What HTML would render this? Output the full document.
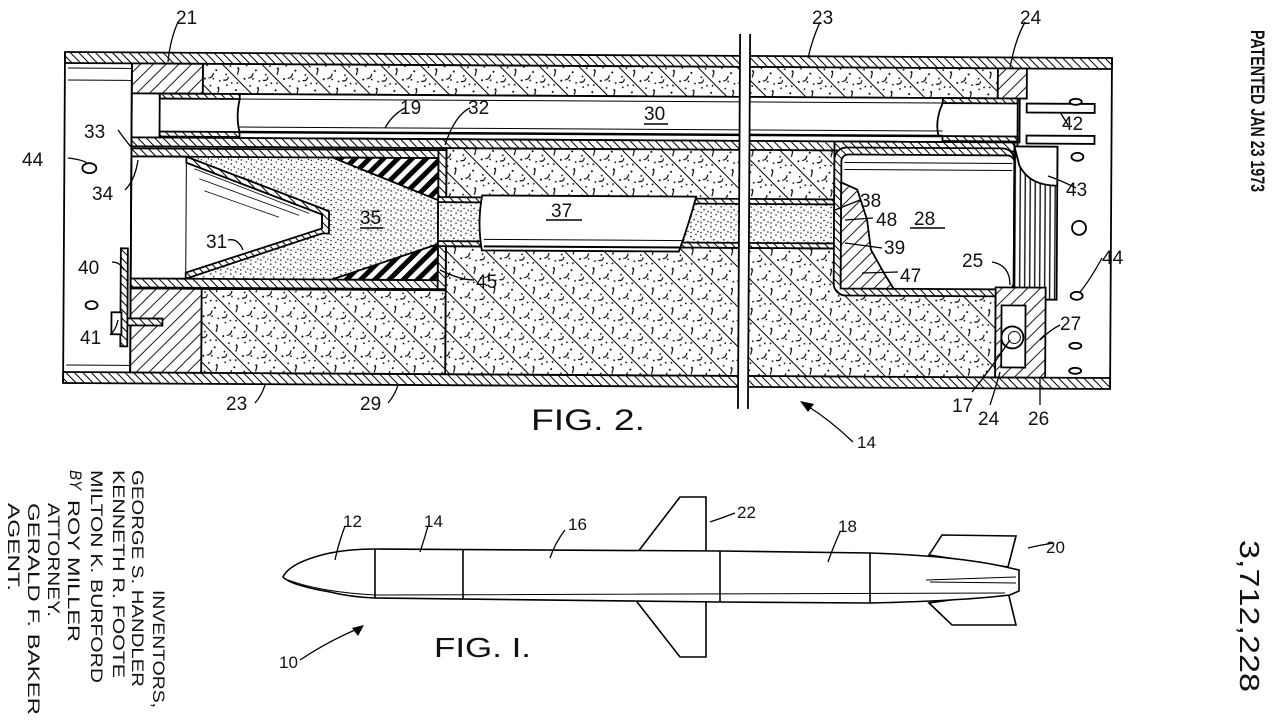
<!DOCTYPE html>
<html><head><meta charset="utf-8"><style>
html,body{margin:0;padding:0;background:#fff;}
svg{display:block;}
text{font-family:"Liberation Sans",sans-serif;fill:#111;}
.l{font-size:19px;}
</style></head><body>
<svg width="1280" height="722" viewBox="0 0 1280 722" xmlns="http://www.w3.org/2000/svg">
<defs>
<pattern id="h1" width="6" height="6" patternUnits="userSpaceOnUse" patternTransform="rotate(-45)"><rect width="6" height="6" fill="#fff"/><line x1="0" y1="0" x2="0" y2="6" stroke="#000" stroke-width="2"/></pattern>
<pattern id="h2" width="9" height="9" patternUnits="userSpaceOnUse" patternTransform="rotate(45)"><rect width="9" height="9" fill="#fff"/><line x1="0" y1="0" x2="0" y2="9" stroke="#000" stroke-width="1.8"/></pattern>
<pattern id="blk" width="10" height="10" patternUnits="userSpaceOnUse" patternTransform="rotate(45)"><rect width="10" height="10" fill="#fff"/><rect x="0" y="0" width="5" height="10" fill="#000"/></pattern>
<pattern id="ins" width="28" height="28" patternUnits="userSpaceOnUse" patternTransform="rotate(-45)"><rect width="28" height="28" fill="#fff"/><line x1="0" y1="0" x2="0" y2="28" stroke="#000" stroke-width="2"/>
<circle cx="6" cy="4" r="1"/><circle cx="12" cy="10" r="0.9"/><circle cx="20" cy="6" r="1"/><circle cx="24" cy="16" r="0.9"/><circle cx="9" cy="20" r="1"/><circle cx="17" cy="24" r="0.9"/><circle cx="22" cy="26" r="0.9"/><circle cx="5" cy="13" r="0.9"/><circle cx="15" cy="16" r="0.9"/><circle cx="26" cy="2" r="0.9"/>
<path d="M9 6 q3 3 7 0 M18 18 q3 4 6 1 M4 24 l5 -3" stroke="#000" stroke-width="1.1" fill="none"/></pattern>
<pattern id="st" width="10" height="10" patternUnits="userSpaceOnUse"><rect width="10" height="10" fill="#fff"/><circle cx="2" cy="3" r="0.8"/><circle cx="7" cy="1" r="0.7"/><circle cx="5" cy="6" r="0.8"/><circle cx="9" cy="8" r="0.7"/><circle cx="2" cy="9" r="0.7"/></pattern>
<pattern id="thr" width="5" height="10" patternUnits="userSpaceOnUse"><rect width="5" height="10" fill="#fff"/><line x1="1" y1="0" x2="1" y2="10" stroke="#000" stroke-width="1.3"/></pattern>
</defs>
<rect width="1280" height="722" fill="#fff"/>

<g transform="rotate(0.33 65 52)" stroke="#000" stroke-width="1.8">
<rect x="65" y="52" width="1047" height="11" fill="url(#h1)"/>
<rect x="65" y="372" width="1047" height="11" fill="url(#h1)"/>
<line x1="65" y1="52" x2="65" y2="383"/>
<line x1="1112" y1="52" x2="1112" y2="383"/>
<rect x="203" y="63" width="795" height="30" fill="url(#ins)"/>
<rect x="132" y="63" width="71" height="30" fill="url(#h2)"/>
<rect x="998" y="63" width="29" height="30" fill="url(#h2)"/>
<rect x="132" y="93" width="888" height="44" fill="#fff"/>
<rect x="160" y="93" width="80" height="5" fill="url(#h1)"/>
<rect x="160" y="131" width="80" height="5" fill="url(#h1)"/>
<rect x="943" y="93" width="75" height="5" fill="url(#h1)"/>
<rect x="943" y="131" width="75" height="5" fill="url(#h1)"/>
<path d="M240 98 q-4 18 0 33 M943 98 q-8 18 -4 33" fill="none"/>
<line x1="240" y1="98" x2="943" y2="98" stroke-width="1"/>
<line x1="240" y1="126" x2="943" y2="126" stroke-width="1"/>
<line x1="240" y1="131" x2="943" y2="131" stroke-width="2.5"/>
<line x1="160" y1="93" x2="160" y2="136"/>
<rect x="132" y="137" width="886" height="9" fill="url(#h1)"/>
<rect x="447" y="146" width="388" height="50" fill="url(#ins)"/>
<rect x="447" y="244" width="550" height="128" fill="url(#ins)"/>
<rect x="203" y="288" width="244" height="84" fill="url(#ins)"/>
<rect x="132" y="288" width="71" height="84" fill="url(#h2)"/>
<rect x="835" y="137" width="180" height="9" fill="url(#h1)"/>
<rect x="132" y="146" width="315" height="142" fill="url(#st)"/>
<rect x="132" y="148" width="315" height="8" fill="url(#h1)"/>
<rect x="132" y="278" width="315" height="9" fill="url(#h1)"/>
<rect x="439" y="148" width="8" height="139" fill="url(#h1)"/>
<polygon points="132,156 187,156 323,210 323,230 187,278 132,278" fill="#fff"/>
<line x1="187" y1="156" x2="187" y2="278" stroke-width="1"/>
<path d="M190 160 L315 208 M195 168 L310 212 M200 178 L300 214 M205 190 L280 216" stroke-width="0.8" fill="none"/>
<polygon points="187,156 323,207 330,210 330,232 323,232 187,278 187,272 323,227 323,213 187,162" fill="url(#h1)"/>
<polygon points="333,156 439,156 439,198" fill="url(#blk)"/>
<polygon points="333,278 439,242 439,278" fill="url(#blk)"/>
<rect x="439" y="196" width="396" height="48" fill="url(#st)"/>
<rect x="439" y="195" width="396" height="5" fill="url(#h1)"/>
<rect x="439" y="239" width="396" height="5" fill="url(#h1)"/>
<path d="M483 193 L697 193 Q690 220 680 248 L483 248 Q478 220 483 193 Z" fill="#fff"/>
<line x1="485" y1="237" x2="685" y2="237" stroke-width="1"/>
<line x1="485" y1="244" x2="683" y2="244" stroke-width="2"/>
<rect x="835" y="143" width="180" height="148" rx="12" fill="url(#h1)"/>
<rect x="842" y="150" width="173" height="134" rx="7" fill="#fff"/>
<line x1="845" y1="158" x2="1013" y2="158" stroke-width="1"/>
<line x1="845" y1="165" x2="1013" y2="165" stroke-width="1"/>
<polygon points="842,178 858,185 868,215 872,245 885,268 895,284 842,284" fill="url(#h2)"/>
<rect x="1015" y="141" width="43" height="153" fill="url(#thr)"/>
<path d="M1015 141 L1058 141 L1058 180 Q1030 180 1020 160 Z" fill="#fff"/>
<line x1="1018" y1="93" x2="1018" y2="141"/>
<rect x="1027" y="98" width="68" height="9" fill="#fff"/>
<rect x="1027" y="130" width="68" height="8" fill="#fff"/>
<rect x="997" y="282" width="50" height="90" fill="url(#h2)"/>
<rect x="1003" y="300" width="24" height="62" fill="#fff"/>
<circle cx="1014" cy="332" r="11" fill="#fff"/>
<circle cx="1016" cy="332" r="6" fill="none" stroke-width="1"/>
<rect x="740" y="30" width="10" height="375" fill="#fff" stroke="none"/>
<line x1="740" y1="30" x2="740" y2="405"/>
<line x1="750" y1="30" x2="750" y2="405"/>
<line x1="132" y1="63" x2="132" y2="372"/>
<line x1="68" y1="68" x2="132" y2="68" stroke-width="1"/>
<line x1="68" y1="80" x2="132" y2="80" stroke-width="1"/>
<line x1="68" y1="365" x2="132" y2="365" stroke-width="1"/>
<rect x="122" y="248" width="7" height="98" fill="url(#h1)"/>
<rect x="113" y="312" width="10" height="22" fill="#fff"/>
<rect x="129" y="318" width="35" height="7" fill="url(#h1)"/>
<ellipse cx="90" cy="168" rx="7" ry="5" fill="#fff"/>
<ellipse cx="93" cy="305" rx="6" ry="4" fill="#fff"/>
<ellipse cx="1076" cy="96" rx="6" ry="3" fill="#fff"/>
<ellipse cx="1078" cy="151" rx="6" ry="4" fill="#fff"/>
<circle cx="1080" cy="222" r="7" fill="#fff"/>
<ellipse cx="1078" cy="290" rx="6" ry="4" fill="#fff"/>
<ellipse cx="1077" cy="340" rx="6" ry="3" fill="#fff"/>
<ellipse cx="1077" cy="365" rx="6" ry="3" fill="#fff"/>
</g>

<g stroke="#000" stroke-width="1.3" fill="none">
<path d="M178 22 Q170 40 168 62"/>
<path d="M820 22 Q812 40 808 58"/>
<path d="M1025 22 Q1015 40 1010 68"/>
<path d="M118 130 Q125 140 132 148"/>
<path d="M125 190 Q135 180 138 160"/>
<path d="M68 158 Q85 160 88 164"/>
<path d="M405 108 Q392 115 385 128"/>
<path d="M470 108 Q455 115 445 145"/>
<path d="M228 240 Q238 238 243 250"/>
<path d="M112 262 Q120 262 124 270"/>
<path d="M474 280 Q460 280 440 270"/>
<path d="M110 335 Q116 330 118 320"/>
<path d="M255 403 Q262 395 265 385"/>
<path d="M388 403 Q395 395 398 385"/>
<path d="M860 200 L835 210"/>
<path d="M873 218 L845 220"/>
<path d="M882 248 L845 243"/>
<path d="M898 272 L862 273"/>
<path d="M992 262 Q1010 265 1010 285"/>
<path d="M1076 188 Q1060 180 1048 176"/>
<path d="M1068 125 L1060 112"/>
<path d="M1102 258 Q1090 280 1080 292"/>
<path d="M1060 325 Q1050 330 1040 340"/>
<path d="M972 392 Q990 370 1010 340"/>
<path d="M990 405 Q995 390 1000 372"/>
<path d="M1040 405 L1040 378"/>
<path d="M853 442 Q830 420 806 405"/>
</g>
<polygon points="800,401 814,404 808,412" fill="#000"/>

<g class="l">
<text x="176" y="24">21</text>
<text x="812" y="24">23</text>
<text x="1020" y="24">24</text>
<text x="644" y="120">30</text>
<text x="84" y="138">33</text>
<text x="92" y="200">34</text>
<text x="22" y="166">44</text>
<text x="400" y="114">19</text>
<text x="468" y="114">32</text>
<text x="360" y="224">35</text>
<text x="551" y="217">37</text>
<text x="206" y="248">31</text>
<text x="78" y="274">40</text>
<text x="476" y="288">45</text>
<text x="80" y="344">41</text>
<text x="226" y="410">23</text>
<text x="360" y="410">29</text>
<text x="860" y="207">38</text>
<text x="876" y="226">48</text>
<text x="914" y="225">28</text>
<text x="884" y="254">39</text>
<text x="962" y="267">25</text>
<text x="900" y="282">47</text>
<text x="1066" y="196">43</text>
<text x="1062" y="130">42</text>
<text x="1102" y="264">44</text>
<text x="1060" y="330">27</text>
<text x="952" y="412">17</text>
<text x="978" y="425">24</text>
<text x="1028" y="425">26</text>
<text x="857" y="448" font-size="17">14</text>
</g>
<g stroke="#000" stroke-width="1.5">
<line x1="644" y1="124" x2="668" y2="124"/>
<line x1="360" y1="228" x2="383" y2="228"/>
<line x1="546" y1="220" x2="582" y2="220"/>
<line x1="910" y1="228" x2="945" y2="228"/>
</g>
<text x="531" y="430" font-size="30" textLength="114" lengthAdjust="spacingAndGlyphs">FIG. 2.</text>

<g stroke="#000" stroke-width="1.6" fill="#fff">
<polygon points="634,557 680,497 706,497 706,557"/>
<polygon points="634,598 680,657 706,657 706,598"/>
<polygon points="929,555 942,535 1016,536 1008,567"/>
<polygon points="929,603 952,625 1016,625 1008,592"/>
<path d="M283 577 Q290 562 330 553 Q350 549 375 549 L720 551 L870 553 Q960 556 1010 568 L1019 570 L1019 591 L1010 595 Q960 601 870 603 L720 602 L375 598 Q350 597 330 592 Q290 585 283 577 Z"/>
<line x1="375" y1="549" x2="375" y2="598"/>
<line x1="463" y1="550" x2="463" y2="599"/>
<line x1="720" y1="551" x2="720" y2="602"/>
<line x1="870" y1="553" x2="870" y2="603"/>
<path d="M288 580 Q320 592 375 595 L1005 593" fill="none" stroke-width="1"/>
<path d="M926 580 L1016 577 M930 582 L1016 583" fill="none" stroke-width="1"/>
</g>
<g stroke="#000" stroke-width="1.3" fill="none">
<path d="M345 526 Q338 545 335 560"/>
<path d="M428 526 Q424 540 420 552"/>
<path d="M565 530 Q555 543 550 558"/>
<path d="M735 513 Q722 518 710 522"/>
<path d="M840 532 Q832 550 828 562"/>
<path d="M1054 543 Q1040 545 1028 548"/>
<path d="M300 660 Q330 640 360 628"/>
</g>
<polygon points="364,625 352,628 358,636" fill="#000"/>
<g font-size="17">
<text x="343" y="527">12</text>
<text x="424" y="527">14</text>
<text x="568" y="530">16</text>
<text x="737" y="518">22</text>
<text x="838" y="532">18</text>
<text x="1046" y="553">20</text>
<text x="279" y="668">10</text>
</g>
<text x="434" y="657" font-size="28" textLength="97" lengthAdjust="spacingAndGlyphs">FIG. I.</text>

<text transform="translate(1251,30) rotate(90)" font-size="19" font-weight="bold" textLength="162" lengthAdjust="spacingAndGlyphs">PATENTED JAN 23 1973</text>
<text transform="translate(1240,540) rotate(90)" font-size="28" textLength="152" lengthAdjust="spacingAndGlyphs">3,712,228</text>

<g font-size="17">
<text transform="translate(153,590) rotate(90)" textLength="118" lengthAdjust="spacingAndGlyphs">INVENTORS,</text>
<text transform="translate(132,470) rotate(90)" textLength="217" lengthAdjust="spacingAndGlyphs">GEORGE S. HANDLER</text>
<text transform="translate(113,470) rotate(90)" textLength="208" lengthAdjust="spacingAndGlyphs">KENNETH R. FOOTE</text>
<text transform="translate(91,470) rotate(90)" textLength="213" lengthAdjust="spacingAndGlyphs">MILTON K. BURFORD</text>
<text transform="translate(70,470) rotate(90)" font-style="italic" font-family="Liberation Serif" textLength="20" lengthAdjust="spacingAndGlyphs">BY</text>
<text transform="translate(68,500) rotate(90)" textLength="142" lengthAdjust="spacingAndGlyphs">ROY MILLER</text>
<text transform="translate(48,503) rotate(90)" textLength="114" lengthAdjust="spacingAndGlyphs">ATTORNEY.</text>
<text transform="translate(28,503) rotate(90)" textLength="212" lengthAdjust="spacingAndGlyphs">GERALD F. BAKER</text>
<text transform="translate(8,503) rotate(90)" textLength="88" lengthAdjust="spacingAndGlyphs">AGENT.</text>
</g>
</svg>
</body></html>
